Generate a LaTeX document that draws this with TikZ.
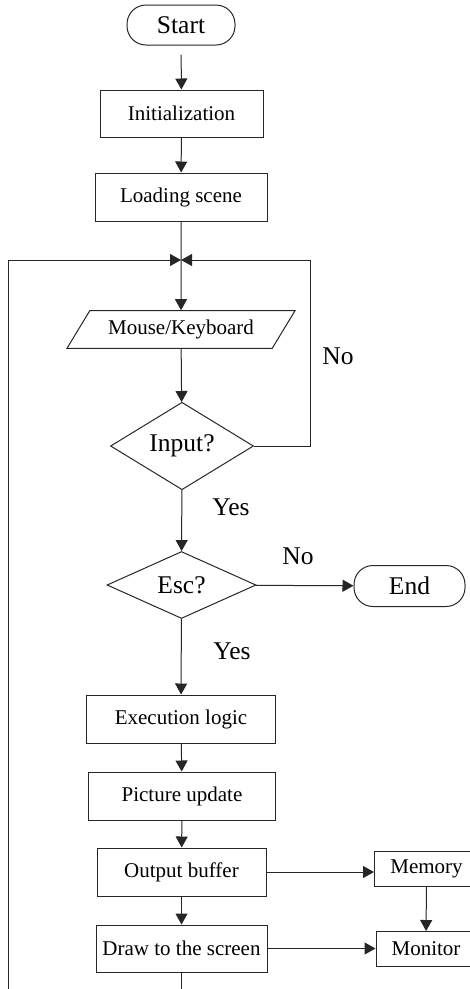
\documentclass[tikz,border=0pt]{standalone}
\usepackage{fontspec}
\setmainfont{Liberation Serif}
\usetikzlibrary{shapes.geometric,arrows.meta}

\begin{document}
\begin{tikzpicture}[x=1pt,y=-1pt,>={Triangle[length=11pt,width=12pt]},
  line width=1pt,
  boxtext/.style={font=\fontsize{21}{24}\selectfont},
  bigtext/.style={font=\fontsize{25.5}{28}\selectfont},
  procbox/.style={draw=black!85,rectangle,boxtext,inner sep=0pt},
  termbox/.style={draw=black!85,rectangle,rounded corners=19pt,bigtext,inner sep=0pt},
  decbox/.style={draw=black!85,diamond,bigtext,inner sep=0pt},
  iobox/.style={draw=black!85,trapezium,trapezium left angle=40,trapezium right angle=140,
    trapezium stretches body,boxtext,inner sep=0pt},
  flow/.style={->,draw=black!85}]

\useasboundingbox (0,0) rectangle (470,989);
\clip (0,0) rectangle (470,989);

%main column
\node[termbox,minimum width=108pt,minimum height=40pt] (start) at (181,25) {Start};
\node[procbox,minimum width=163pt,minimum height=47pt] (init) at (181.5,113.5) {Initialization};
\node[procbox,minimum width=172pt,minimum height=48pt] (load) at (181,197) {Loading scene};
\coordinate (join) at (181,260);
\node[iobox,minimum width=228pt,minimum height=37.6pt] (mouse) at (181,329.5) {Mouse/Keyboard};
\node[decbox,minimum width=143pt,minimum height=65pt] (input) at (182,446) {Input?};
\node[decbox,minimum width=149pt,minimum height=67pt] (esc) at (181.5,585) {Esc?};
\node[termbox,minimum width=111pt,minimum height=41pt] (end) at (409.5,586) {End};
\node[procbox,minimum width=189pt,minimum height=48pt] (exec) at (181,719) {Execution logic};
\node[procbox,minimum width=187pt,minimum height=48pt] (pic) at (182,796) {Picture update};
\node[procbox,minimum width=169pt,minimum height=48pt] (outbuf) at (181.5,872) {Output buffer};
\node[procbox,minimum width=171pt,minimum height=47pt] (drawscr) at (181.5,948.5) {Draw to the screen};

%right column
\node[procbox,minimum width=104pt,minimum height=35pt] (mem) at (426.5,868.5) {Memory};
\node[procbox,minimum width=100pt,minimum height=35pt] (mon) at (426,949) {Monitor};

%labels
\node[bigtext] (no1) at (338,356) {No};
\node[bigtext] (yes1) at (231,507) {Yes};
\node[bigtext] (no2) at (298,556) {No};
\node[bigtext] (yes2) at (232,651) {Yes};

%loop corners
\coordinate (noturn) at (310,260);
\coordinate (loopbot) at (181.5,1005);
\coordinate (loopleft) at (8.5,1005);
\coordinate (looptop) at (8.5,260);

\draw[flow,shorten <=9pt] (start) -- (init);
\draw[flow] (init) -- (load);
\draw[flow] (load) -- (mouse);
\draw[flow] (mouse) -- (input);
\draw[flow] (input.east) -| (noturn) -- (join);
\draw[flow] (input) -- (esc);
\draw[flow] (esc) -- (end);
\draw[flow] (esc) -- (exec);
\draw[flow] (exec) -- (pic);
\draw[flow] (pic) -- (outbuf);
\draw[flow] (outbuf) -- (drawscr);
\draw[flow] (outbuf.east) -- (outbuf.east -| mem.west);
\draw[flow] (mem) -- (mon);
\draw[flow] (drawscr.east) -- (drawscr.east -| mon.west);
\draw[flow] (drawscr.south) -- (loopbot) -- (loopleft) -- (looptop) -- (join);

\end{tikzpicture}
\end{document}
